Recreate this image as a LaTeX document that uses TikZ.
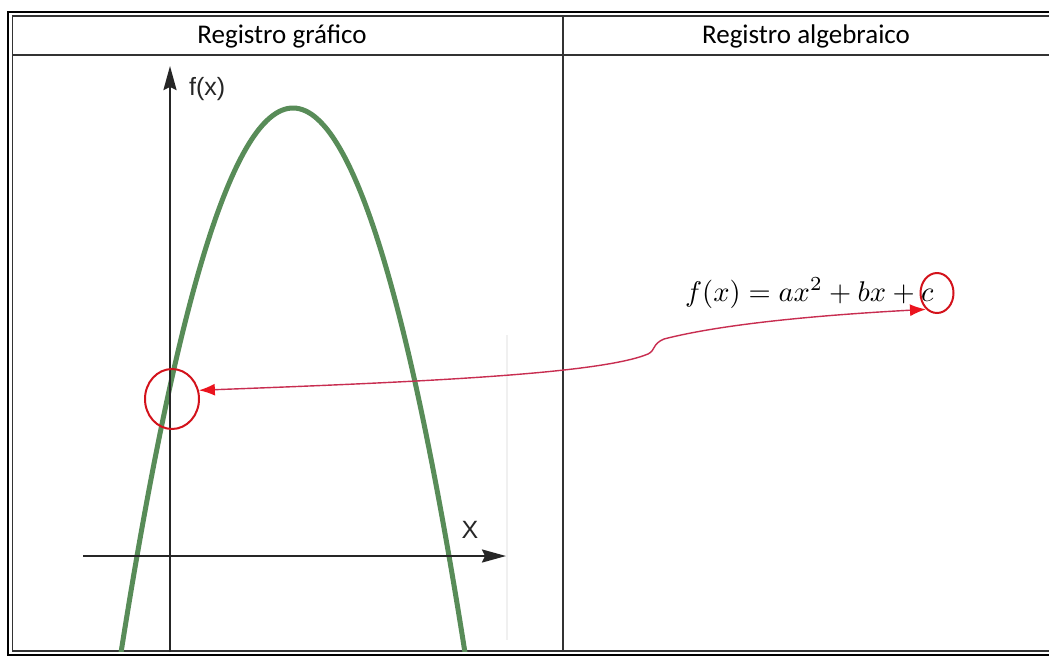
\documentclass[tikz,border=0pt]{standalone}
\usepackage{fontspec}
\usepackage{graphicx}
\setmainfont{Carlito}
\newfontfamily\arialf{Liberation Sans}
\usetikzlibrary{arrows.meta,shapes.geometric}
\definecolor{curvegreen}{RGB}{88,140,88}
\definecolor{linkred}{RGB}{200,45,80}
\definecolor{tipred}{RGB}{235,20,30}
\tikzset{
  frameline/.style={line width=2pt, black},
  innerline/.style={line width=1.2pt, black!80},
  hdr/.style={font=\fontsize{27}{32}\selectfont, inner sep=0pt},
  axisline/.style={line width=2.2pt, black!85, -{Stealth[length=24pt,width=13pt,inset=3pt]}},
  lbl/.style={font=\arialf\fontsize{25}{30}\selectfont, inner sep=0pt, text=black!85},
  curveline/.style={line width=5pt, curvegreen},
  ring/.style={ellipse, draw=tipred!90!black, line width=2pt, inner sep=0pt},
  linkline/.style={line width=1.4pt, linkred,
     {Latex[length=16pt,width=12pt,color=tipred]}-{Latex[length=16pt,width=12pt,color=tipred]}}
}
\begin{document}
\begin{tikzpicture}[x=1pt,y=-1pt]
\useasboundingbox (0,0) rectangle (1049,657);
\fill[white] (0,0) rectangle (1049,657);
% faint artifact line
\draw[gray!12, line width=2pt] (507,335) -- (507,640);
% outer double frame
\draw[frameline] (1060,12) -- (8,12) -- (8,655) -- (1060,655);
\draw[innerline] (1060,16) -- (12.5,16) -- (12.5,651) -- (1060,651);
% header line and column divider
\draw[innerline] (12.5,55) -- (1060,55);
\draw[innerline] (563,16) -- (563,651);
% headers
\node[hdr] (h1) at (282,36) {Registro gráfico};
\node[hdr] (h2) at (806,36) {Registro algebraico};
% parabola
\begin{scope}
\clip (13,56) rectangle (562,651);
\draw[curveline] plot[domain=116:468, samples=120, smooth] (\x, {108+1.841*((\x-293)/10)^2});
\end{scope}
% axes
\coordinate (yb) at (170,652);
\coordinate (yt) at (170,66);
\coordinate (xl) at (83,556);
\coordinate (xr) at (506,556);
\draw[axisline] (yb) -- (yt);
\draw[axisline] (xl) -- (xr);
\node[lbl, anchor=west] (fx) at (189,89) {f(x)};
\node[lbl] (X) at (470,530) {X};
% formula
\node[anchor=base west, inner sep=0pt] (eq) at (685,301) {\scalebox{2.85}{$f(x) = ax^2 + bx + c$}};
% circles
\node[ring, minimum width=33pt, minimum height=40pt] (cc) at (937,293) {};
\node[ring, minimum width=54pt, minimum height=60pt] (cl) at (172,399) {};
% connector
\draw[linkline] (cl.18) .. controls (420,382) and (600,374) .. (648,354)
   .. controls (656,350) and (652,344) .. (664,339)
   .. controls (730,322) and (840,314) .. (cc.236);
\end{tikzpicture}
\end{document}
